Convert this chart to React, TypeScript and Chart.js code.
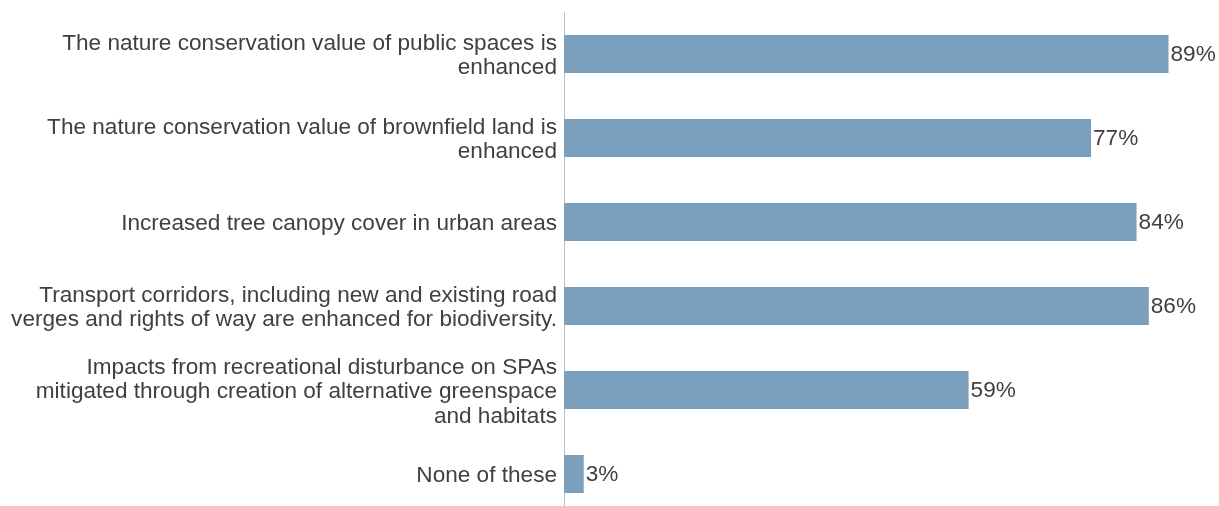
import React, { useEffect, useRef } from "react";
import { Chart, registerables } from "chart.js";

Chart.register(...registerables);

const categories: string[][] = [
  ["The nature conservation value of public spaces is", "enhanced"],
  ["The nature conservation value of brownfield land is", "enhanced"],
  ["Increased tree canopy cover in urban areas"],
  ["Transport corridors, including new and existing road", "verges and rights of way are enhanced for biodiversity."],
  ["Impacts from recreational disturbance on SPAs", "mitigated through creation of alternative greenspace", "and habitats"],
  ["None of these"],
];
const values: number[] = [88.9, 77.5, 84.2, 86.0, 59.5, 2.9];
const valueLabels: string[] = ["89%", "77%", "84%", "86%", "59%", "3%"];

const FONT = "'Liberation Sans', Arial, sans-serif";
const TEXT = "#404040";
const FONT_SIZE = 22.6;

const labelPlugin = {
  id: "barLabels",
  afterDatasetsDraw(chart: any) {
    const ctx = chart.ctx;
    const meta = chart.getDatasetMeta(0);
    ctx.save();
    ctx.font = `${FONT_SIZE}px ${FONT}`;
    ctx.fillStyle = TEXT;
    ctx.textAlign = "left";
    ctx.textBaseline = "middle";
    meta.data.forEach((bar: any, i: number) => {
      ctx.fillText(valueLabels[i], bar.x + 2, bar.y + 1);
    });
    ctx.restore();
  },
};

export default function App() {
  const ref = useRef<HTMLCanvasElement>(null);
  useEffect(() => {
    if (!ref.current) return;
    const chart = new Chart(ref.current, {
      type: "bar",
      data: {
        labels: categories,
        datasets: [
          {
            data: values,
            backgroundColor: "#7BA0BE",
            barPercentage: 0.452,
            categoryPercentage: 1,
          },
        ],
      },
      options: {
        indexAxis: "y",
        animation: false,
        responsive: false,
        maintainAspectRatio: false,
        layout: { padding: { top: 12, right: 9, bottom: 4, left: 0 } },
        plugins: { legend: { display: false }, tooltip: { enabled: false } },
        scales: {
          x: { display: false, min: 0, max: 95 },
          y: {
            afterFit: (scale: any) => {
              scale.width = 564;
              scale.paddingTop = 0;
              scale.paddingBottom = 0;
            },
            grid: { display: false, drawTicks: false },
            border: { display: true, color: "#BFBFBF", width: 1 },
            ticks: {
              color: TEXT,
              padding: 7,
              labelOffset: 2,
              font: { family: FONT, size: FONT_SIZE, lineHeight: 1.08 },
            },
          },
        },
      },
      plugins: [labelPlugin],
    });
    return () => chart.destroy();
  }, []);
  return (
    <div style={{ position: "absolute", left: 0, top: 0, width: 1219, height: 506, overflow: "hidden", background: "#fff" }}>
      <canvas ref={ref} width={1219} height={520} style={{ display: "block", width: 1219, height: 520 }} />
    </div>
  );
}
